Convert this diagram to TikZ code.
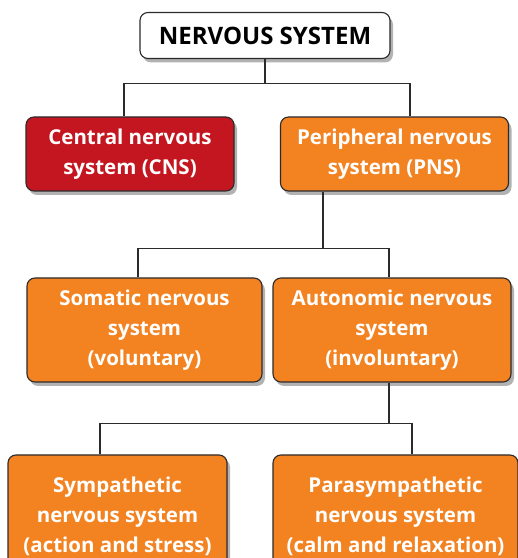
\documentclass[tikz,border=0pt]{standalone}
\usepackage{fontspec}
\setmainfont{Open Sans}
\usetikzlibrary{positioning, shadows, calc}
\definecolor{cnsred}{RGB}{196, 22, 32}
\definecolor{pnsorange}{RGB}{243, 130, 33}
\definecolor{edgegray}{RGB}{45, 42, 43}

\begin{document}
\begin{tikzpicture}[
    x=1pt, y=1pt,
    box/.style={rectangle, rounded corners=8pt, draw=edgegray, line width=1.1pt, align=center, text=white, font=\fontsize{20.5}{30}\selectfont\bfseries, drop shadow={shadow xshift=3pt, shadow yshift=-4pt, fill=black, opacity=0.3}},
    rootbox/.style={box, fill=white, text=black, font=\fontsize{24}{28}\selectfont\bfseries},
    redbox/.style={box, fill=cnsred},
    orangebox/.style={box, fill=pnsorange},
    link/.style={draw=edgegray, line width=1.8pt}
]

\clip (0,0) rectangle (518,558);

% Top level
\node (nervous) [rootbox, minimum width=250, minimum height=46] at (265,522.5) {NERVOUS SYSTEM};

% CNS and PNS
\node (cns) [redbox, minimum width=208, minimum height=74] at (130,404) {Central nervous\\system (CNS)};
\node (pns) [orangebox, minimum width=228, minimum height=74] at (394.5,404) {Peripheral nervous\\system (PNS)};

% Branches of the PNS
\node (somatic) [orangebox, minimum width=235, minimum height=104] at (144.5,228) {Somatic nervous\\system\\(voluntary)};
\node (autonomic) [orangebox, minimum width=238, minimum height=104] at (392,228) {Autonomic nervous\\system\\(involuntary)};

% Branches of the autonomic system
\node (sympathetic) [orangebox, minimum width=219, minimum height=123] at (117.5,41.5) {Sympathetic\\nervous system\\(action and stress)};
\node (parasympathetic) [orangebox, minimum width=245, minimum height=123] at (395.5,41.5) {Parasympathetic\\nervous system\\(calm and relaxation)};

% Links
\draw [link] (nervous.south) -- ++(0,-24.5) coordinate (split_top);
\draw [link] ([xshift=-6pt]cns.north) |- (split_top) -| ([xshift=15.5pt]pns.north);

\draw [link] ([xshift=-71.5pt]pns.south) -- ++(0,-57) coordinate (split_pns);
\draw [link] ([xshift=-6.5pt]somatic.north) |- (split_pns) -| ([xshift=-3pt]autonomic.north);

\draw [link] ([xshift=-3pt]autonomic.south) -- ++(0,-41) coordinate (split_ans);
\draw [link] ([xshift=-17.5pt]sympathetic.north) |- (split_ans) -| ([xshift=16.5pt]parasympathetic.north);

\end{tikzpicture}
\end{document}
